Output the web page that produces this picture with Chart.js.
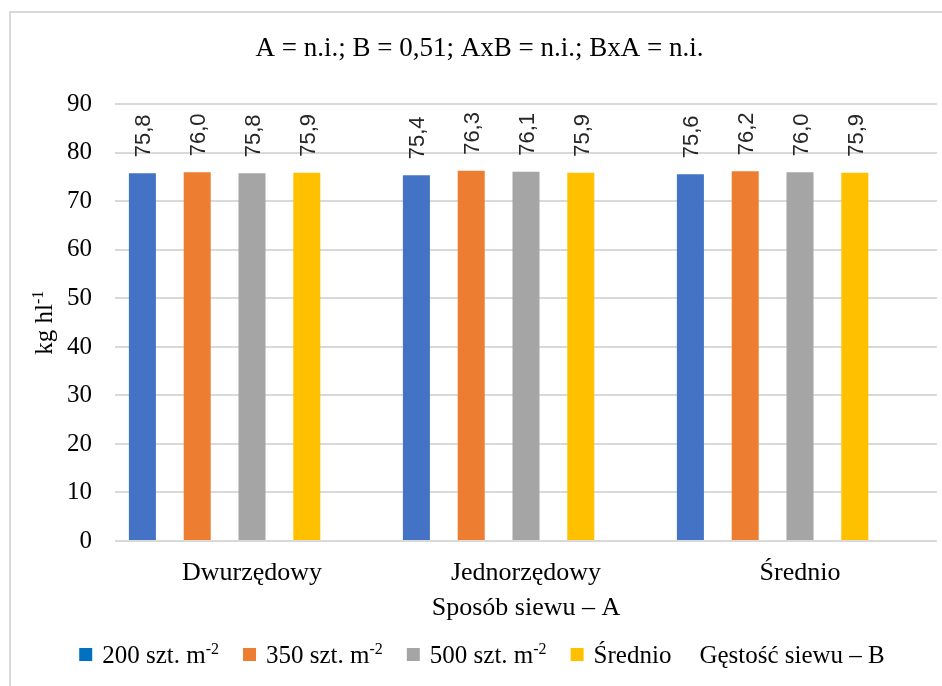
<!DOCTYPE html>
<html>
<head>
<meta charset="utf-8">
<script src="https://cdn.jsdelivr.net/npm/chart.js@4/dist/chart.umd.min.js"></script>
<style>
  html, body { margin: 0; padding: 0; background: #fff; }
  #wrap { position: relative; width: 942px; height: 686px; overflow: hidden; }
  #frame { position: absolute; left: 9px; top: 11px; width: 1000px; height: 1000px;
           border-left: 2px solid #d9d9d9; border-top: 2px solid #d9d9d9; }
  canvas { position: absolute; left: 0; top: 0; }
</style>
</head>
<body>
<div id="wrap">
  <div id="frame"></div>
  <canvas id="c" width="942" height="686"></canvas>
</div>
<script>
// Sowing method (A) categories
const categories = ['Dwurzędowy', 'Jednorzędowy', 'Średnio'];

// Test weight, kg hl-1, per sowing density (B)
const d200  = [75.8, 75.4, 75.6];
const d350  = [76.0, 76.3, 76.2];
const d500  = [75.8, 76.1, 76.0];
const dMean = [75.9, 75.9, 75.9];
const dEmpty = [null, null, null];

const seriesNames = ['200 szt. m', '350 szt. m', '500 szt. m', 'Średnio', 'Gęstość siewu – B'];
const seriesSup   = ['-2', '-2', '-2', '', ''];
const barColors    = ['#4472C4', '#ED7D31', '#A5A5A5', '#FFC000', null];
const legendColors = ['#0070C0', '#ED7D31', '#A5A5A5', '#FFC000', null];

const yTickValues = [0, 10, 20, 30, 40, 50, 60, 70, 80, 90];
const titleText = 'A = n.i.; B = 0,51; AxB = n.i.; BxA = n.i.';
const xTitleText = 'Sposób siewu – A';
const yTitleText = 'kg hl';
const yTitleSup = '-1';

const SERIF = '"Liberation Serif", "Times New Roman", serif';
const SANS = '"Liberation Sans", Arial, sans-serif';

const seriesData = [d200, d350, d500, dMean, dEmpty];

// Rotated value labels above each bar
const valueLabels = {
  id: 'valueLabels',
  afterDatasetsDraw(chart) {
    const ctx = chart.ctx;
    const fs = 22;
    ctx.save();
    ctx.font = fs + 'px ' + SANS;
    ctx.fillStyle = '#262626';
    ctx.textAlign = 'left';
    ctx.textBaseline = 'alphabetic';
    chart.data.datasets.forEach((ds, di) => {
      const meta = chart.getDatasetMeta(di);
      meta.data.forEach((bar, i) => {
        const v = ds.data[i];
        if (v === null || v === undefined) return;
        const txt = v.toFixed(1).replace('.', ',');
        ctx.save();
        ctx.translate(bar.x + fs * 0.36, bar.y - 16);
        ctx.rotate(-Math.PI / 2);
        ctx.fillText(txt, 0, 0);
        ctx.restore();
      });
    });
    ctx.restore();
  }
};

// Vertical axis title with superscript
const yTitlePlugin = {
  id: 'yTitlePlugin',
  afterDraw(chart) {
    const ctx = chart.ctx;
    const ca = chart.chartArea;
    const cy = (ca.top + ca.bottom) / 2;
    const fMain = '25px ' + SERIF;
    const fSup = '16px ' + SERIF;
    ctx.save();
    ctx.font = fMain;
    const w1 = ctx.measureText(yTitleText).width;
    ctx.font = fSup;
    const w2 = ctx.measureText(yTitleSup).width;
    const total = w1 + w2;
    ctx.translate(52, cy);
    ctx.rotate(-Math.PI / 2);
    ctx.fillStyle = '#000';
    ctx.textBaseline = 'alphabetic';
    ctx.textAlign = 'left';
    ctx.font = fMain;
    ctx.fillText(yTitleText, -total / 2, 0);
    ctx.font = fSup;
    ctx.fillText(yTitleSup, -total / 2 + w1, -9);
    ctx.restore();
  }
};

// Legend row at the bottom, with superscripts in unit labels
const legendPlugin = {
  id: 'legendRow',
  afterDraw(chart) {
    const ctx = chart.ctx;
    const fMain = '25px ' + SERIF;
    const fSup = '16px ' + SERIF;
    const box = 13, boxGap = 10, itemGap = 24, noBoxGap = 28;
    const y = 663;
    ctx.save();
    const items = seriesNames.map((name, i) => {
      ctx.font = fMain;
      const wb = ctx.measureText(name).width;
      ctx.font = fSup;
      const ws = seriesSup[i] ? ctx.measureText(seriesSup[i]).width : 0;
      const hasBox = !!legendColors[i];
      return { name, sup: seriesSup[i], wb, ws, hasBox, color: legendColors[i],
               w: (hasBox ? box + boxGap : 0) + wb + ws };
    });
    let total = 0;
    items.forEach((it, i) => {
      total += it.w;
      if (i < items.length - 1) total += items[i + 1].hasBox ? itemGap : noBoxGap;
    });
    let x = 482 - total / 2;
    ctx.textBaseline = 'alphabetic';
    ctx.textAlign = 'left';
    items.forEach((it, i) => {
      if (it.hasBox) {
        ctx.fillStyle = it.color;
        ctx.fillRect(x, y - 15, box, box);
        x += box + boxGap;
      }
      ctx.fillStyle = '#000';
      ctx.font = fMain;
      ctx.fillText(it.name, x, y);
      x += it.wb;
      if (it.sup) {
        ctx.font = fSup;
        ctx.fillText(it.sup, x, y - 9);
        x += it.ws;
      }
      if (i < items.length - 1) x += items[i + 1].hasBox ? itemGap : noBoxGap;
    });
    ctx.restore();
  }
};

new Chart(document.getElementById('c'), {
  type: 'bar',
  data: {
    labels: categories,
    datasets: seriesData.map((d, i) => ({
      label: seriesNames[i] + seriesSup[i],
      data: d,
      backgroundColor: barColors[i] || 'rgba(0,0,0,0)',
      borderWidth: 0,
      categoryPercentage: 1.0,
      barPercentage: 0.493
    }))
  },
  options: {
    responsive: false,
    animation: false,
    devicePixelRatio: 1,
    layout: { padding: { left: 22, right: 5, top: 0, bottom: 54 } },
    plugins: {
      legend: { display: false },
      tooltip: { enabled: false },
      title: {
        display: true,
        text: titleText,
        color: '#000',
        font: { family: SERIF, size: 27, weight: 'normal' },
        padding: { top: 33, bottom: 39 }
      }
    },
    scales: {
      x: {
        grid: { display: false },
        border: { display: false },
        ticks: {
          color: '#000',
          font: { family: SERIF, size: 26 },
          padding: 9
        },
        title: {
          display: true,
          text: xTitleText,
          color: '#000',
          font: { family: SERIF, size: 26 },
          padding: { top: 0, bottom: 8 }
        },
        afterFit(s) { s.height = 91; }
      },
      y: {
        min: 0,
        max: 90,
        afterBuildTicks(s) { s.ticks = yTickValues.map(v => ({ value: v })); },
        grid: { color: '#d9d9d9', lineWidth: 2, drawTicks: false },
        border: { display: false },
        ticks: {
          color: '#000',
          font: { family: SERIF, size: 25 },
          padding: 23
        },
        afterFit(s) { s.width = 93; }
      }
    }
  },
  plugins: [valueLabels, yTitlePlugin, legendPlugin]
});
</script>
</body>
</html>
